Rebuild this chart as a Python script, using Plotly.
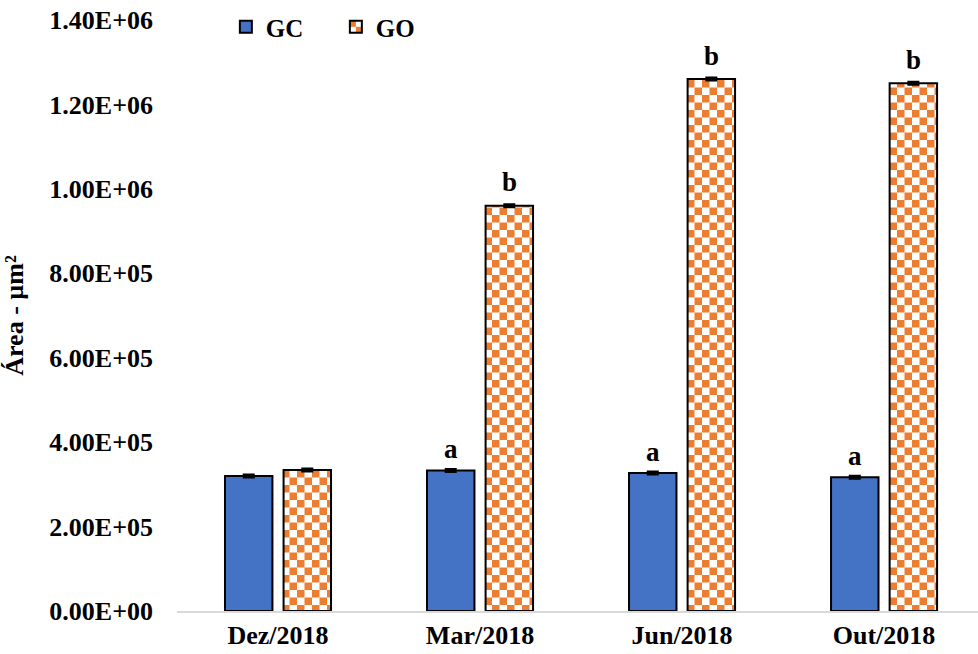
import plotly.graph_objects as go

# Sampling campaigns and mean area per group (µm²)
categories = ["Dez/2018", "Mar/2018", "Jun/2018", "Out/2018"]
gc_values = [3.20e5, 3.33e5, 3.27e5, 3.17e5]
go_values = [3.34e5, 9.60e5, 1.26e6, 1.25e6]
gc_errors = [3000, 3000, 3000, 3000]
go_errors = [3000, 3000, 3000, 3000]
gc_letters = ["", "a", "a", "a"]
go_letters = ["", "b", "b", "b"]

y_tickvals = [0, 2e5, 4e5, 6e5, 8e5, 1.0e6, 1.2e6, 1.4e6]
y_ticktext = ["0.00E+00", "2.00E+05", "4.00E+05", "6.00E+05",
              "8.00E+05", "1.00E+06", "1.20E+06", "1.40E+06"]

SERIF = "Liberation Serif, Times New Roman, serif"
BLUE = "#4472C4"
ORANGE = "#ED7D31"
BAR_OFFSET_PX = 29  # half the distance between the two bars of a group

fig = go.Figure()
fig.add_trace(go.Bar(
    name="GC", x=categories, y=gc_values,
    marker=dict(color=BLUE, line=dict(color="black", width=2)),
    error_y=dict(type="data", array=gc_errors, color="black", thickness=2.5, width=6),
))
fig.add_trace(go.Bar(
    name="GO", x=categories, y=go_values,
    marker=dict(color="white", line=dict(color="black", width=2),
                pattern=dict(shape="+", fgcolor=ORANGE, bgcolor="white",
                             size=8, solidity=0.5, fillmode="replace")),
    error_y=dict(type="data", array=go_errors, color="black", thickness=2.5, width=6),
))

# Significance letters above each bar
letter_font = dict(family=SERIF, size=27, color="black", weight="bold")
for cat, val, err, lab in zip(categories, gc_values, gc_errors, gc_letters):
    if lab:
        fig.add_annotation(x=cat, y=val + err, text=lab, showarrow=False,
                           xshift=-BAR_OFFSET_PX, yshift=3, yanchor="bottom",
                           font=letter_font)
for cat, val, err, lab in zip(categories, go_values, go_errors, go_letters):
    if lab:
        fig.add_annotation(x=cat, y=val + err, text=lab, showarrow=False,
                           xshift=BAR_OFFSET_PX, yshift=5, yanchor="bottom",
                           font=letter_font)

fig.update_layout(
    width=978, height=654,
    margin=dict(l=177, r=0, t=20, b=43),
    paper_bgcolor="white", plot_bgcolor="white",
    barmode="group", bargap=0.42, bargroupgap=0.19,
    font=dict(family=SERIF, color="black"),
    showlegend=True,
    legend=dict(orientation="h", x=0.061, y=0.988, xanchor="left", yanchor="middle",
                font=dict(family=SERIF, size=25, color="black", weight="bold"),
                entrywidth=65, entrywidthmode="pixels",
                bgcolor="rgba(0,0,0,0)", traceorder="normal"),
    xaxis=dict(range=[-0.5, 3.465], showline=True, linecolor="#D9D9D9", linewidth=2,
               ticks="", showgrid=False, zeroline=False,
               tickfont=dict(family=SERIF, size=26, color="black", weight="bold")),
    yaxis=dict(range=[0, 1.4e6], tickvals=y_tickvals, ticktext=y_ticktext,
               showline=False, showgrid=False, zeroline=False, ticks="",
               ticklabelstandoff=23,
               tickfont=dict(family=SERIF, size=26, color="black", weight="bold"),
               title=dict(text="Área - µm²", standoff=18,
                          font=dict(family=SERIF, size=26, color="black", weight="bold"))),
)

# Render the GO fill as an orange/white checkerboard
checker_js = """
var gd = document.getElementById('{plot_id}');
function checker(){
  var ns = 'http://www.w3.org/2000/svg';
  document.querySelectorAll('pattern').forEach(function(p){
    if (p.getAttribute('data-checker') === '1') return;
    var s = 15, h = 7.5;
    p.setAttribute('width', s);
    p.setAttribute('height', s);
    p.setAttribute('patternUnits', 'userSpaceOnUse');
    while (p.firstChild) p.removeChild(p.firstChild);
    function r(x, y, w, hh, c){
      var e = document.createElementNS(ns, 'rect');
      e.setAttribute('x', x); e.setAttribute('y', y);
      e.setAttribute('width', w); e.setAttribute('height', hh);
      e.setAttribute('fill', c);
      p.appendChild(e);
    }
    r(0, 0, s, s, '#ffffff');
    r(0, 0, h, h, '#ED7D31');
    r(h, h, h, h, '#ED7D31');
    p.setAttribute('data-checker', '1');
  });
}
checker();
gd.on('plotly_afterplot', checker);
"""

fig.write_html("out.html", post_script=checker_js)
